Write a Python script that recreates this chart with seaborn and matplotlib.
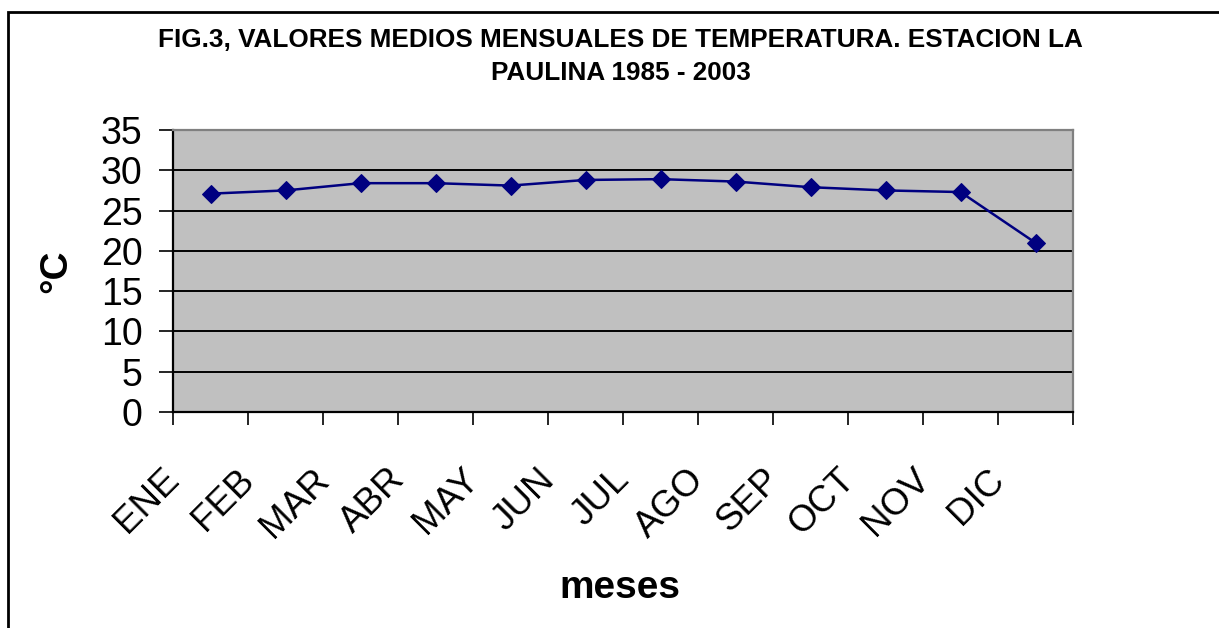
import numpy as np
import pandas as pd
import matplotlib
matplotlib.use('Agg')
import matplotlib.pyplot as plt
import matplotlib.transforms as mtransforms
from matplotlib.patches import Rectangle
import seaborn as sns

meses = ['ENE', 'FEB', 'MAR', 'ABR', 'MAY', 'JUN', 'JUL', 'AGO', 'SEP', 'OCT', 'NOV', 'DIC']
temperatura = [27.1, 27.5, 28.4, 28.4, 28.1, 28.8, 28.9, 28.6, 27.9, 27.5, 27.3, 21.0]
y_ticks = [0, 5, 10, 15, 20, 25, 30, 35]

df = pd.DataFrame({'mes': meses, 'temp': temperatura})

sns.set_style('white')
plt.rcParams['font.family'] = ['Liberation Sans', 'DejaVu Sans']
plt.rcParams['text.color'] = 'black'
plt.rcParams['axes.labelcolor'] = 'black'
plt.rcParams['xtick.color'] = 'black'
plt.rcParams['ytick.color'] = 'black'

fig = plt.figure(figsize=(12.19, 6.28), dpi=100)
ax = fig.add_axes([173 / 1219, 1 - 412 / 628, 900 / 1219, 282 / 628])
ax.set_facecolor('#c0c0c0')

sns.lineplot(data=df, x='mes', y='temp', ax=ax, color='#000080', marker='D',
             markersize=9.5, markeredgecolor='#000080', linewidth=1.8, sort=False)

ax.set_ylim(0, 35)
ax.set_xlim(-0.5, len(meses) - 0.5)
ax.set_yticks(y_ticks)
ax.set_yticklabels([str(v) for v in y_ticks], fontsize=27)
for v in y_ticks[1:-1]:
    ax.axhline(v, color='black', linewidth=1.4, zorder=1)

# ticks on category boundaries, labels on centres
ax.set_xticks(np.arange(-0.5, len(meses), 1.0))
ax.set_xticklabels([])
ax.set_xticks(np.arange(len(meses)), minor=True)
ax.set_xticklabels(meses, minor=True, fontsize=26.5, rotation=45, ha='right', va='top')
ax.tick_params(axis='x', which='major', direction='out', length=9, width=1.2, color='black', bottom=True)
ax.tick_params(axis='x', which='minor', length=0, pad=36)
ax.tick_params(axis='y', direction='out', length=10, width=1.2, color='black', left=True, pad=12)
shift = mtransforms.ScaledTranslation(-24 / 100, 0, fig.dpi_scale_trans)
for lab in ax.get_xticklabels(minor=True):
    lab.set_transform(lab.get_transform() + shift)

for side in ['left', 'bottom']:
    ax.spines[side].set_color('black')
    ax.spines[side].set_linewidth(1.6)
for side in ['top', 'right']:
    ax.spines[side].set_color('#808080')
    ax.spines[side].set_linewidth(1.6)

ax.set_xlabel('meses', fontsize=28, fontweight='bold', va='center')
ax.xaxis.set_label_coords(0.497, -0.624)
ax.set_ylabel('°C', fontsize=28, fontweight='bold', va='center')
ax.yaxis.set_label_coords(-0.13, 0.5)

fig.text(0.509, 1 - 28 / 628, 'FIG.3, VALORES MEDIOS MENSUALES DE TEMPERATURA. ESTACION LA\nPAULINA 1985 - 2003',
         ha='center', va='top', fontsize=18.8, fontweight='bold', linespacing=1.45)

fig.patches.append(Rectangle((8 / 1219, -0.05), 1.1, 1 - 12 / 628 + 0.05, transform=fig.transFigure,
                             fill=False, edgecolor='black', linewidth=2))

fig.savefig('out.png', dpi=100)
